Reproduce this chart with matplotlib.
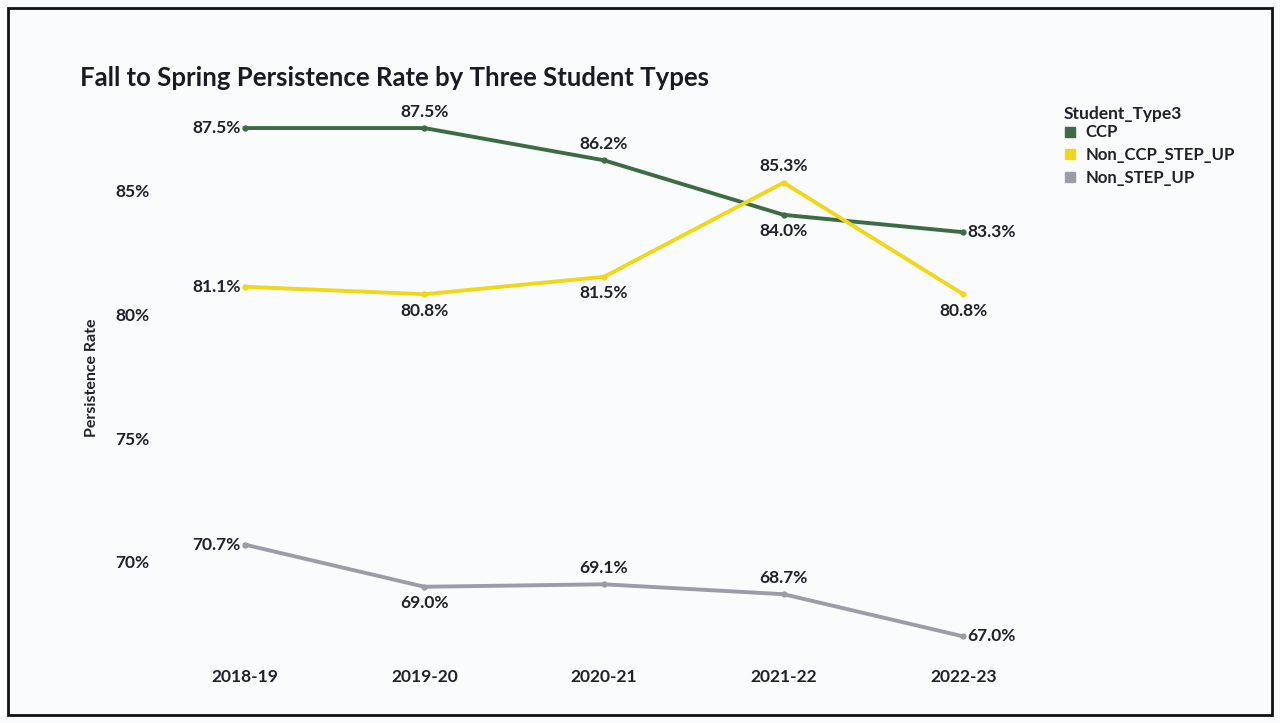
import matplotlib
matplotlib.use('Agg')
import matplotlib.pyplot as plt
from matplotlib.lines import Line2D
from matplotlib.patches import Rectangle

years = ['2018-19', '2019-20', '2020-21', '2021-22', '2022-23']
ccp = [87.5, 87.5, 86.2, 84.0, 83.3]
non_ccp_step_up = [81.1, 80.8, 81.5, 85.3, 80.8]
non_step_up = [70.7, 69.0, 69.1, 68.7, 67.0]

# label placement per point: 'l' left, 'r' right, 'a' above, 'b' below
ccp_pos = ['l', 'a', 'a', 'b', 'r']
non_ccp_pos = ['l', 'b', 'b', 'a', 'b']
non_step_pos = ['l', 'b', 'a', 'a', 'r']

colors = {'CCP': '#3d6b45', 'Non_CCP_STEP_UP': '#f0d819', 'Non_STEP_UP': '#9d9ba8'}

plt.rcParams['font.family'] = ['Lato', 'DejaVu Sans']
text_color = '#20202b'
fs = 12.5

fig = plt.figure(figsize=(12.8, 7.23), dpi=100)
fig.patch.set_facecolor('#f9fbfd')
ax = fig.add_axes([155 / 1280, 1 - 650 / 723, (1053 - 155) / 1280, (650 - 105) / 723])
ax.set_facecolor('none')

x = list(range(len(years)))
series = [('CCP', ccp, ccp_pos), ('Non_CCP_STEP_UP', non_ccp_step_up, non_ccp_pos),
          ('Non_STEP_UP', non_step_up, non_step_pos)]
for name, vals, pos in series:
    ax.plot(x, vals, color=colors[name], lw=2.8, marker='o', ms=3.5, solid_capstyle='round')
    for xi, v, p in zip(x, vals, pos):
        lab = f'{v:.1f}%'
        if p == 'l':
            ax.annotate(lab, (xi, v), xytext=(-3, 0), textcoords='offset points',
                        ha='right', va='center', fontsize=fs, fontweight='bold', color=text_color)
        elif p == 'r':
            ax.annotate(lab, (xi, v), xytext=(3, 0), textcoords='offset points',
                        ha='left', va='center', fontsize=fs, fontweight='bold', color=text_color)
        elif p == 'a':
            ax.annotate(lab, (xi, v), xytext=(0, 6), textcoords='offset points',
                        ha='center', va='bottom', fontsize=fs, fontweight='bold', color=text_color)
        else:
            ax.annotate(lab, (xi, v), xytext=(0, -6), textcoords='offset points',
                        ha='center', va='top', fontsize=fs, fontweight='bold', color=text_color)

ax.set_xlim(-0.5, 4.5)
ax.set_ylim(66.45, 88.43)
ax.set_xticks(x)
ax.set_xticklabels(years, fontsize=fs, fontweight='bold', color=text_color)
ax.set_yticks([70, 75, 80, 85])
ax.set_yticklabels(['70%', '75%', '80%', '85%'], fontsize=fs, fontweight='bold', color=text_color)
ax.tick_params(length=0)
ax.tick_params(axis='y', pad=4)
ax.tick_params(axis='x', pad=14)
for s in ax.spines.values():
    s.set_visible(False)
ax.set_ylabel('Persistence Rate', fontsize=11.5, fontweight='bold', color=text_color, labelpad=12)

fig.text(80 / 1280, 1 - 78 / 723, 'Fall to Spring Persistence Rate by Three Student Types',
         fontsize=18.5, fontweight='bold', color='#1a1a24', va='center', ha='left')

handles = [Line2D([], [], ls='none', marker='s', ms=7, color=colors[n]) for n in colors]
leg = fig.legend(handles, list(colors.keys()), title='Student_Type3', loc='upper left',
                 bbox_to_anchor=(1052 / 1280, 1 - 94 / 723), frameon=False,
                 prop={'size': 12, 'weight': 'bold'}, title_fontproperties={'size': 12.5, 'weight': 'bold'},
                 handlelength=0.8, handletextpad=0.5, labelspacing=0.4, borderpad=0.2)
leg._legend_box.align = 'left'
leg._legend_box.sep = 2
for t in leg.get_texts():
    t.set_color(text_color)
leg.get_title().set_color(text_color)

fig.add_artist(Rectangle((8 / 1280, 8 / 723), 1264 / 1280, 707 / 723, transform=fig.transFigure,
                         fill=False, edgecolor='#111111', lw=2))

fig.savefig('out.png', dpi=100, facecolor=fig.get_facecolor())
